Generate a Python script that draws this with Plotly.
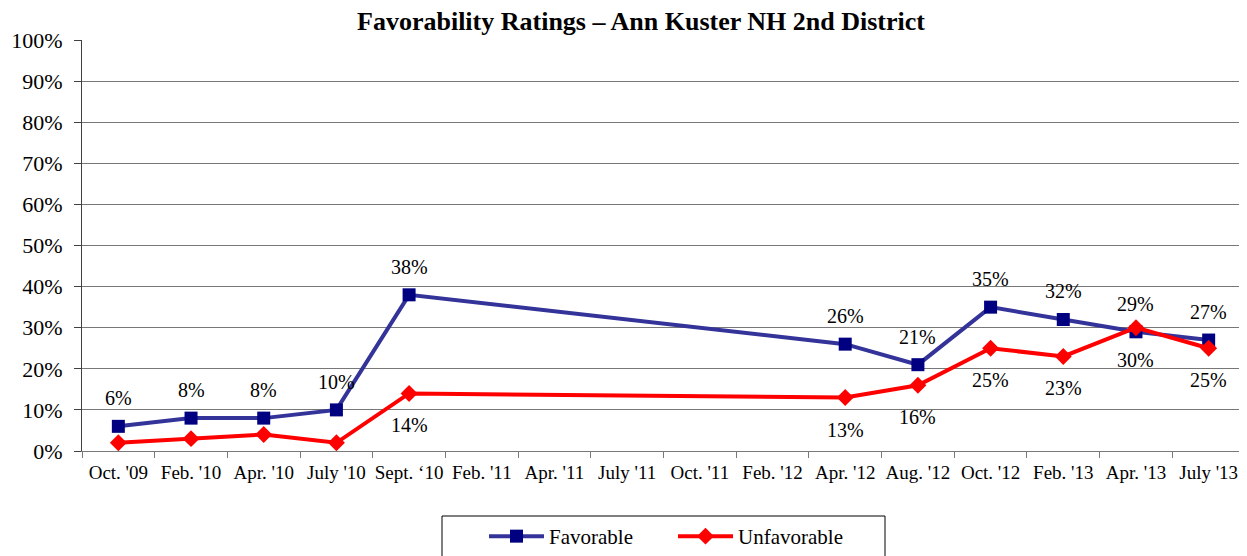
import plotly.graph_objects as go

categories = ["Oct. '09", "Feb. '10", "Apr. '10", "July '10", "Sept. \u201810", "Feb. '11",
              "Apr. '11", "July '11", "Oct. '11", "Feb. '12", "Apr. '12", "Aug. '12",
              "Oct. '12", "Feb. '13", "Apr. '13", "July '13"]
favorable = [6, 8, 8, 10, 38, None, None, None, None, None, 26, 21, 35, 32, 29, 27]
unfavorable = [2, 3, 4, 2, 14, None, None, None, None, None, 13, 16, 25, 23, 30, 25]
unfav_labeled = [False, False, False, False, True, False, False, False, False, False,
                 True, True, True, True, True, True]

FONT = "Liberation Serif"
# page has an 8px body margin; figure sized to fill the rest of the 1247x556 window
OFF = 8
W, H = 1247 - OFF, 556 - OFF
L, T = 82 - OFF, 40 - OFF
PR, PB = 1245 - OFF, 451 - OFF          # plot right / bottom in figure pixels
R, B = W - PR, H - PB
PW, PH = W - L - R, H - T - B


def px_x(px):
    return (px - OFF - L) / PW


def px_y(py):
    return (PB - (py - OFF)) / PH


fig = go.Figure()
fig.add_trace(go.Scatter(
    x=categories, y=favorable, name="Favorable", mode="lines+markers",
    connectgaps=True,
    line=dict(color="#333399", width=4),
    marker=dict(symbol="square", size=13, color="#000080"),
))
fig.add_trace(go.Scatter(
    x=categories, y=unfavorable, name="Unfavorable", mode="lines+markers",
    connectgaps=True,
    line=dict(color="#FF0000", width=4),
    marker=dict(symbol="diamond", size=13, color="#FF0000"),
))

annotations = []
for c, v in zip(categories, favorable):
    if v is not None:
        annotations.append(dict(x=c, y=v, text=f"{v}%", showarrow=False, yshift=28,
                                font=dict(family=FONT, size=20, color="black")))
for c, v, lab in zip(categories, unfavorable, unfav_labeled):
    if v is not None and lab:
        annotations.append(dict(x=c, y=v, text=f"{v}%", showarrow=False, yshift=-32,
                                font=dict(family=FONT, size=20, color="black")))

fig.update_layout(
    width=W, height=H,
    margin=dict(l=L, r=R, t=T, b=B, autoexpand=False),
    paper_bgcolor="white", plot_bgcolor="white",
    font=dict(family=FONT, color="black"),
    title=dict(text="<b>Favorability Ratings \u2013 Ann Kuster NH 2nd District</b>",
               x=(641 - OFF) / W, xanchor="center", y=1 - (21 - OFF) / H, yanchor="middle",
               font=dict(family=FONT, size=26, color="black")),
    showlegend=True,
    legend=dict(orientation="h", x=px_x(484), xanchor="left",
                yref="container", y=1 - (516 - OFF) / H, yanchor="top",
                borderwidth=0, bgcolor="rgba(0,0,0,0)",
                font=dict(family=FONT, size=21, color="black"),
                entrywidth=119, itemwidth=55),
    annotations=annotations,
    shapes=[dict(type="rect", xref="paper", yref="paper",
                 x0=px_x(442), x1=px_x(885),
                 y0=px_y(570), y1=px_y(516),
                 line=dict(color="black", width=1), fillcolor="rgba(0,0,0,0)",
                 layer="below")],
)
fig.update_xaxes(
    type="category", categoryorder="array", categoryarray=categories,
    showline=True, linecolor="#7a7a7a", linewidth=1,
    ticks="outside", tickson="boundaries", ticklen=6, tickcolor="#7a7a7a",
    showgrid=False, tickfont=dict(family=FONT, size=19, color="black"),
    tickangle=0, ticklabelstandoff=4,
    range=[-0.5, len(categories) - 0.5], automargin=False,
)
fig.update_yaxes(
    range=[0, 100], dtick=10, ticksuffix="%",
    showline=True, linecolor="#404040", linewidth=1,
    ticks="outside", ticklen=7, tickcolor="#404040",
    showgrid=True, gridcolor="#777777", gridwidth=1,
    tickfont=dict(family=FONT, size=22, color="black"),
    ticklabelstandoff=7,
    zeroline=False, automargin=False,
)

fig.write_html("out.html")
